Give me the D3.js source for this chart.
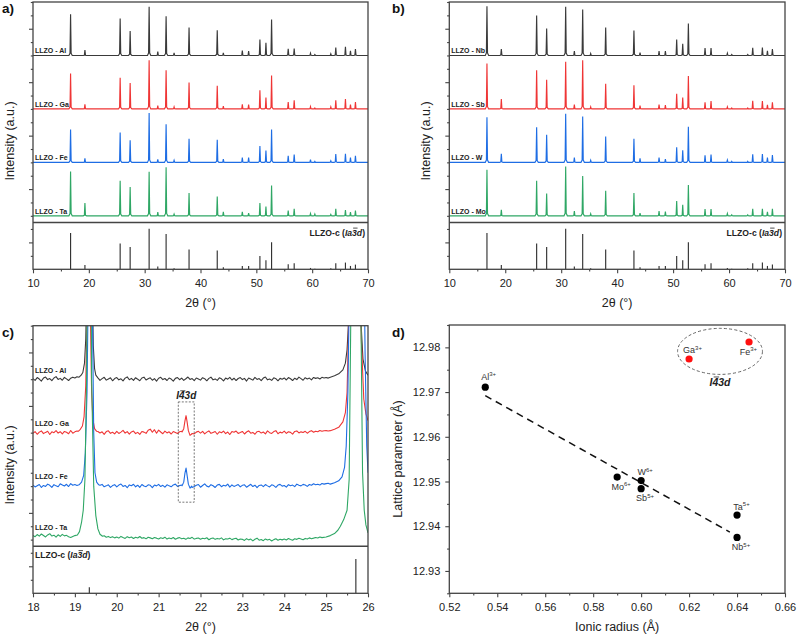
<!DOCTYPE html>
<html><head><meta charset="utf-8">
<script src="https://cdn.jsdelivr.net/npm/d3@7"></script>
<style>body{margin:0;background:#fff}svg{display:block}</style>
</head><body>
<svg id="chart" width="797" height="636"></svg>
<script>
// ---------------- DATA ----------------
// XRD peak positions (2θ, degrees) shared by all patterns in panels a/b
const peakTheta = [16.73,19.30,25.61,27.40,30.80,32.35,33.84,35.27,37.95,43.00,44.09,47.49,48.62,50.64,51.72,52.73,55.71,56.78,59.70,60.48,63.34,64.23,65.96,66.86,67.75];
// peak intensities (a.u.) for each doped sample
const intensAl = [30.9,4.0,27.7,18.2,36.4,2.8,29.4,2.0,20.9,18.9,2.0,3.7,3.2,12.0,9.5,26.9,5.0,5.2,1.7,0.7,1.3,6.0,6.5,3.5,4.7];
const intensGa = [26.4,3.5,23.4,19.4,36.4,2.5,28.9,1.5,19.7,17.4,2.0,3.5,3.2,14.0,8.5,24.9,5.2,6.5,1.7,0.7,1.5,6.5,7.3,3.2,5.2];
const intensFe = [24.5,3.0,22.4,16.5,36.9,2.2,28.6,1.5,17.7,17.0,2.5,3.5,3.5,12.2,8.8,24.5,5.0,5.8,2.0,0.7,1.1,6.2,6.5,3.5,5.0];
const intensTa = [33.1,9.5,26.2,21.5,32.9,2.8,36.4,1.3,17.0,14.4,3.0,3.0,2.0,9.5,7.0,22.7,4.0,5.2,1.7,1.3,1.0,5.2,4.3,2.8,4.0];
const intensNb = [36.9,4.7,29.9,20.2,36.4,3.2,34.4,1.5,20.9,18.7,2.2,3.2,3.2,12.0,8.8,23.9,5.5,5.5,1.7,0.7,0.7,5.8,6.0,3.5,4.7];
const intensSb = [33.9,7.3,28.9,21.9,35.2,3.2,36.4,1.5,18.9,17.7,2.5,3.2,2.8,11.4,8.5,24.7,5.0,5.8,1.5,0.7,0.7,6.0,5.8,3.0,5.0];
const intensW  = [33.7,6.5,26.2,20.7,36.4,3.5,34.4,1.5,19.4,17.7,3.0,3.5,2.5,11.2,9.0,26.7,5.2,5.8,1.7,0.7,0.7,6.0,6.2,3.5,5.5];
const intensMo = [34.4,4.5,26.2,16.7,36.9,3.5,29.7,1.5,18.7,17.0,2.0,3.5,3.2,11.0,8.2,23.0,5.0,5.0,1.7,0.7,0.7,5.2,5.2,3.0,5.2];
// reference LLZO-c (Ia-3d) stick pattern
const refIntens = [26.9,3.2,19.2,16.5,30.1,2.0,26.2,0.7,14.7,14.0,1.5,2.5,2.5,9.9,6.7,20.2,3.7,4.5,1.0,0.5,0.7,4.5,5.0,2.5,3.5];

const samplesA = ["LLZO - Al","LLZO - Ga","LLZO - Fe","LLZO - Ta"];
const samplesB = ["LLZO - Nb","LLZO - Sb","LLZO - W","LLZO - Mo"];
const stackOffsets = [120,80,40,0];

const xTicksAB = [10,20,30,40,50,60,70];
const xMinorAB = [15,25,35,45,55,65];
const xTicksC = [18,19,20,21,22,23,24,25,26];
const xMinorC = [18.5,19.5,20.5,21.5,22.5,23.5,24.5,25.5];

// Panel c: zoomed scans, baseline (2θ = 18.00 → 26.00, step 0.05) and peak profiles [2θ, I]
const cGridStart = 18.0, cGridStep = 0.05;
const cBaseAl = [
  0.4,-0.9,1.2,0.1,-1.4,0.8,1.6,-0.3,0.5,-1.1,0.9,1.9,-0.2,0.6,-0.8,1.3,0.2,-1.0,0.7,1.5,
  0.9,1.8,2.6,4,6,8,10,6,3,1,-0.6,1.1,-0.9,0.4,1.4,-0.7,0.2,1.0,-1.2,0.5,
  1.2,-0.5,0.3,-1.3,0.8,1.7,-0.4,0.6,-0.9,1.1,0.0,-1.2,0.9,1.5,-0.6,0.3,1.0,-0.8,0.4,-1.4,
  0.7,1.4,-0.3,0.5,-1.0,0.9,0.1,-1.5,0.6,1.2,-0.4,0.8,-0.9,0.3,1.6,-0.2,0.5,-1.1,0.9,0.2,
  -0.7,1.1,0.4,-1.2,0.6,1.5,-0.5,0.2,-0.9,1.0,0.3,-1.3,0.8,0.0,1.4,-0.6,0.7,-1.0,0.5,1.2,
  -0.3,0.6,-1.4,0.9,0.2,-0.7,1.3,-0.2,0.5,-1.1,0.8,1.6,-0.5,0.1,-0.9,1.0,0.4,-1.2,0.6,0.0,
  0.9,-0.6,1.2,0.3,-1.0,0.7,-0.3,1.5,0.4,-0.8,1.1,0.2,0.8,-0.5,1.3,0.6,1.0,0.1,1.4,0.9,
  1.3,0.8,2,2,3,3,4,5,7,10,15,25,40,40,40,40,30,15,8,5,
  3];
const cBaseGa = [
  -0.5,0.8,-1.2,0.4,1.3,-0.7,0.2,1.0,-1.4,0.6,0.0,1.5,-0.3,0.7,-1.0,0.9,0.3,-0.8,1.6,-0.4,
  0.6,1.2,2,3,5,8,10,6,3,1.5,-0.8,0.9,-0.2,0.6,-1.3,0.8,1.4,-0.5,0.3,-0.9,
  1.0,-0.6,0.4,1.7,-0.3,0.8,-1.1,0.5,1.2,-0.7,0.2,-1.3,0.9,0.4,-0.5,1.8,2.6,0.3,2.2,-0.4,
  1.9,0.5,-0.8,1.1,-0.2,0.6,-1.0,0.8,0.1,-0.6,0.7,1.0,3,12,8,-2,-0.6,-0.9,0.4,1.0,
  -0.3,1.0,-0.9,0.4,1.3,-0.5,0.2,0.9,-1.2,0.6,-0.1,1.1,-0.7,0.5,-1.4,0.8,0.3,1.2,-0.6,0.1,
  0.9,-1.0,0.5,1.4,-0.4,0.2,-1.2,0.7,1.0,-0.3,0.5,-0.9,1.3,0.0,-0.6,0.8,1.5,-0.8,0.4,-0.2,
  1.1,-0.5,0.7,0.2,-1.1,0.9,1.3,-0.2,0.6,0.1,1.0,-0.4,0.8,1.5,0.3,1.1,0.7,1.6,1.0,1.4,
  1.5,1.2,2,3,4,5,8,12,18,30,60,80,80,80,60,35,22,14,11,10,
  9];
const cBaseFe = [
  0.8,-0.6,0.3,1.2,-1.0,0.5,-0.2,1.5,0.6,-0.9,1.1,0.2,-0.5,1.7,0.9,0.1,1.4,-0.3,1.9,0.7,
  1.2,0.5,2,3,5,8,12,8,3,1.5,0.9,-0.7,0.6,1.3,-0.5,0.2,1.0,-0.9,0.4,1.1,
  -0.6,0.8,1.6,-0.2,0.5,-1.2,0.9,0.3,1.4,-0.5,0.7,-0.9,1.2,0.1,-0.4,1.0,0.6,-1.1,0.8,0.2,
  1.3,-0.3,0.6,-0.8,1.0,0.2,-0.5,0.9,1.5,-0.2,0.4,0.8,3,12,8,-1.5,-1.0,-0.3,0.7,1.2,
  -0.8,0.5,1.7,0.0,-0.6,1.1,0.3,-1.0,0.8,1.3,-0.4,0.6,0.1,1.5,-0.7,0.9,-0.2,0.4,1.2,-0.5,
  0.6,1.0,-0.8,0.3,1.4,-0.3,0.7,-1.1,0.5,0.9,-0.4,1.2,0.2,-0.6,1.0,0.4,-0.9,0.8,1.3,0.0,
  0.5,-0.7,1.1,0.3,0.8,-0.4,1.5,0.6,0.2,1.3,0.9,-0.2,1.2,0.7,1.8,1.0,1.4,0.8,2.0,1.5,
  1.9,2.2,3,4,5,8,12,20,40,80,120,120,120,120,120,120,120,60,25,10,
  10];
const cBaseTa = [
  3.0,2.2,3.8,2.6,4.2,3.1,2.0,3.5,4.4,2.7,3.3,1.9,3.6,2.4,3.9,2.8,3.2,2.1,1.6,2.3,
  2.5,3,6,13,22,45,120,200,120,40,18,8,4,2.5,2.9,1.8,2.4,1.5,2.2,1.3,
  2.0,1.1,2.4,1.6,0.9,2.2,1.4,1.9,0.8,1.7,1.2,2.3,1.0,1.5,0.6,1.8,1.3,0.7,1.6,1.1,
  0.5,1.4,0.9,1.8,0.4,1.2,0.7,1.6,0.3,1.1,1.5,0.6,1.0,0.2,1.3,0.8,1.7,0.4,0.9,1.2,
  0.3,1.0,0.6,1.4,-0.1,0.8,1.2,0.2,0.9,0.5,1.3,-0.2,0.7,0.4,1.1,0.0,0.6,1.0,-0.3,0.5,
  0.2,-0.6,0.7,-0.2,0.4,-0.9,0.3,1.1,-0.4,0.1,-0.8,0.5,-0.3,0.2,-1.0,0.0,0.6,-0.5,0.3,-0.2,
  0.4,-0.3,0.8,0.1,-0.5,0.6,0.2,1.0,0.5,-0.1,0.9,0.4,1.3,0.7,1.1,1.6,1.2,2.0,1.7,2.4,
  2.8,3.5,4,5,7,10,15,22,45,200,600,600,200,50,22,11,8,6,5,5,
  5];
const cPeakAl1 = [[19.10,1.5],[19.15,3],[19.19,5],[19.23,12],[19.26,30],[19.29,80],[19.35,300],[19.41,80],[19.44,25],[19.47,8],[19.50,3],[19.55,1]];
const cPeakGa1 = [[19.08,1],[19.13,2.5],[19.18,5],[19.22,12],[19.26,35],[19.29,90],[19.33,300],[19.37,90],[19.40,30],[19.43,10],[19.47,3],[19.52,1]];
const cPeakFe1 = [[19.10,1],[19.16,3],[19.21,8],[19.25,25],[19.29,70],[19.32,150],[19.37,400],[19.42,130],[19.45,40],[19.48,10],[19.52,3],[19.57,1]];
const cPeakTa1 = [[19.00,3],[19.06,3.5],[19.11,6],[19.16,13],[19.20,22],[19.24,45],[19.28,120],[19.34,500],[19.40,120],[19.45,40],[19.50,18],[19.55,8],[19.60,4],[19.66,2.5]];
const cPeakAl2 = [[25.10,1.5],[25.20,2.5],[25.30,4],[25.40,7],[25.46,12],[25.50,22],[25.54,45],[25.60,150],[25.68,400],[25.76,150],[25.82,50],[25.88,15],[25.94,6],[26.00,3]];
const cPeakGa2 = [[25.10,1.5],[25.20,2.5],[25.30,4],[25.40,8],[25.46,15],[25.50,30],[25.53,70],[25.60,300],[25.70,500],[25.78,200],[25.84,70],[25.90,25],[25.95,14],[26.00,9]];
const cPeakFe2 = [[25.10,1.5],[25.20,2.5],[25.30,4],[25.38,7],[25.44,14],[25.48,30],[25.52,70],[25.60,250],[25.75,600],[25.88,250],[25.93,100],[25.97,30],[26.00,10]];
const cPeakTa2 = [[24.90,1.5],[25.00,2],[25.10,3],[25.20,4.5],[25.28,7],[25.34,10],[25.42,15],[25.50,22],[25.55,45],[25.60,200],[25.72,600],[25.82,200],[25.87,50],[25.91,22],[25.95,11],[26.00,5]];
const cPeakGa3 = [[21.56,0.5],[21.60,3],[21.63,9],[21.655,12.7],[21.68,8],[21.71,1.5],[21.75,-2],[21.79,-1]];
const cPeakFe3 = [[21.56,0.3],[21.60,3],[21.63,10],[21.655,13.5],[21.68,8],[21.71,1.5],[21.75,-1.5],[21.79,0]];
const cRefTheta = [19.345,25.71];
const cRefIntens = [4.5,25.4];
const cBoxTheta = [21.47,21.85];
const cBoxInt = [28,103];

// Panel d
const ionNames   = ["Al","Ga","Fe","Mo","W","Sb","Ta","Nb"];
const ionCharges = ["3+","3+","3+","6+","6+","5+","5+","5+"];
const ionicRadius = [0.535,0.620,0.645,0.590,0.600,0.600,0.640,0.640];
const latticeParam = [12.9711,12.9774,12.9812,12.9510,12.9502,12.9484,12.9425,12.9375];
const ionPhase = ["c","t","t","c","c","c","c","c"]; // t = I-43d
const fitRadius = [0.535,0.637];
const fitLattice = [12.9692,12.9387];
const dXTicks = [0.52,0.54,0.56,0.58,0.60,0.62,0.64,0.66];
const dXMinor = [0.53,0.55,0.57,0.59,0.61,0.63,0.65];
const dYTicks = [12.93,12.94,12.95,12.96,12.97,12.98];
const dYMinor = [12.925,12.935,12.945,12.955,12.965,12.975,12.985];
const ellipseCenter = [0.6329,12.9791];
const ellipseRadii = [0.0177,0.00515];

// ---------------- STYLE ----------------
const FF = '"Liberation Sans", Arial, Helvetica, sans-serif';
const INK = "#222";
const FRAME = "#444";
const COL = {gray:"#3a3a3a", red:"#ef3535", blue:"#1e6de4", green:"#2fa765"};
const stackColors = [COL.gray, COL.red, COL.blue, COL.green];

const svg = d3.select("#chart");

function axis(g, scale, orient, major, minor, fmt, pad){
  const mk = orient === "bottom" ? d3.axisBottom : d3.axisLeft;
  const a1 = mk(scale).tickValues(major).tickSize(4).tickSizeOuter(0).tickPadding(pad || 6).tickFormat(fmt || (()=>""));
  const a2 = mk(scale).tickValues(minor).tickSize(2.2).tickSizeOuter(0).tickFormat(()=>"");
  const s1 = g.append("g").call(a1), s2 = g.append("g").call(a2);
  [s1,s2].forEach(s=>{
    s.select(".domain").remove();
    s.selectAll("line").attr("stroke",FRAME).attr("stroke-width",1.1);
    s.selectAll("text").attr("fill",INK).attr("font-size",11).attr("font-family",FF);
  });
}

function overlineText(g, x, y, parts, size, anchor, barIndex){
  const t = g.append("text").attr("x",x).attr("y",y).attr("font-family",FF)
    .attr("font-size",size).attr("font-weight","bold").attr("fill",INK).attr("text-anchor",anchor);
  parts.forEach(p=>t.append("tspan").text(p.t).attr("font-style",p.italic?"italic":"normal"));
  const ext = t.node().getExtentOfChar(barIndex);
  g.append("line").attr("x1",ext.x+size*0.12).attr("x2",ext.x+ext.width+size*0.08)
    .attr("y1",y-size*0.86).attr("y2",y-size*0.86).attr("stroke",INK).attr("stroke-width",0.8);
}

function yTitle(x, y, text){
  svg.append("text").attr("transform",`translate(${x},${y}) rotate(-90)`)
    .attr("text-anchor","middle").attr("font-family",FF).attr("font-size",12.5).attr("fill",INK).text(text);
}
function xTitle(x, y, text){
  svg.append("text").attr("x",x).attr("y",y).attr("text-anchor","middle")
    .attr("font-family",FF).attr("font-size",12.5).attr("fill",INK).text(text);
}
function panelLabel(x,y,t){
  svg.append("text").attr("x",x).attr("y",y).attr("font-family",FF).attr("font-size",13.5)
    .attr("font-weight","bold").attr("fill","#111").text(t);
}

// -------- panels a & b --------
function xrdPanel(left, right, names, intens){
  const top = 2, sep = 222.5, bottom = 269.3;
  const g = svg.append("g");
  const x = d3.scaleLinear().domain([10,70]).range([left,right]);
  const y = d3.scaleLinear().domain([-5,160]).range([sep,top]);
  const yr = d3.scaleLinear().domain([0,34.8]).range([bottom,sep]);
  const line = d3.line().x(d=>x(d[0])).y(d=>d[1]);
  names.forEach((nm,k)=>{
    const off = stackOffsets[k];
    const pts = [[10,y(off)]];
    peakTheta.forEach((p,i)=>{
      const h = intens[k][i];
      pts.push([p-0.3,y(off)],[p-0.1,y(off+0.05*h)],[p,y(off+h)],[p+0.1,y(off+0.05*h)],[p+0.3,y(off)]);
    });
    pts.push([70,y(off)]);
    g.append("path").attr("d",line(pts)).attr("fill","none").attr("stroke",stackColors[k]).attr("stroke-width",1.15);
    g.append("text").attr("x",left+2).attr("y",y(off)-2).attr("font-family",FF).attr("font-size",7)
      .attr("font-weight","bold").attr("fill",INK).text(nm);
  });
  g.selectAll(null).data(peakTheta).enter().append("line")
    .attr("x1",d=>x(d)).attr("x2",d=>x(d)).attr("y1",yr(0)).attr("y2",(d,i)=>yr(refIntens[i]))
    .attr("stroke","#333").attr("stroke-width",1.15);
  g.append("rect").attr("x",left).attr("y",top).attr("width",right-left).attr("height",bottom-top)
    .attr("fill","none").attr("stroke",FRAME).attr("stroke-width",1.3);
  g.append("line").attr("x1",left).attr("x2",right).attr("y1",sep).attr("y2",sep).attr("stroke",FRAME).attr("stroke-width",1.6);
  axis(g.append("g").attr("transform",`translate(0,${bottom})`), x, "bottom", xTicksAB, xMinorAB, d=>d);
  axis(g.append("g").attr("transform",`translate(${left},0)`), y, "left", [20,60,100,140], [0,10,30,40,50,70,80,90,110,120,130,150,160]);
  axis(g.append("g").attr("transform",`translate(${left},0)`), yr, "left", [20], [10,30]);
  overlineText(g, right-3, 235.5, [{t:"LLZO-c ("},{t:"Ia3d",italic:true},{t:")"}], 8.6, "end", 10);
  yTitle(left-19.5, 141, "Intensity (a.u.)");
  xTitle((left+right)/2, 307, "2θ (°)");
}
xrdPanel(33, 368, samplesA, [intensAl,intensGa,intensFe,intensTa]);
xrdPanel(449.3, 785, samplesB, [intensNb,intensSb,intensW,intensMo]);
panelLabel(2,12.5,"a)");
panelLabel(392,12.5,"b)");

// -------- panel c --------
(function(){
  const left=33,right=368,top=325.7,sep=546.3,bottom=593.3;
  const g = svg.append("g");
  const x = d3.scaleLinear().domain([18,26]).range([left,right]);
  const y = d3.scaleLinear().domain([-5,160]).range([sep,top]);
  const yr = d3.scaleLinear().domain([0,34.8]).range([bottom,sep]);
  g.append("clipPath").attr("id","clipC").append("rect").attr("x",left).attr("y",top).attr("width",right-left).attr("height",sep-top);
  function build(base, profiles){
    const ranges = profiles.map(p=>[p[0][0], p[p.length-1][0]]);
    const pts = [];
    base.forEach((v,i)=>{
      const t = cGridStart + i*cGridStep;
      if(!ranges.some(r=>t>=r[0]-1e-6 && t<=r[1]+1e-6)) pts.push([t,v]);
    });
    profiles.forEach(p=>p.forEach(q=>pts.push(q)));
    return pts.sort((a,b)=>a[0]-b[0]);
  }
  const curves = [
    build(cBaseAl,[cPeakAl1,cPeakAl2]),
    build(cBaseGa,[cPeakGa1,cPeakGa3,cPeakGa2]),
    build(cBaseFe,[cPeakFe1,cPeakFe3,cPeakFe2]),
    build(cBaseTa,[cPeakTa1,cPeakTa2])
  ];
  const cg = g.append("g").attr("clip-path","url(#clipC)");
  curves.forEach((pts,k)=>{
    const off = stackOffsets[k];
    const line = d3.line().x(d=>x(d[0])).y(d=>y(off+d[1]));
    cg.append("path").attr("d",line(pts)).attr("fill","none").attr("stroke",stackColors[k]).attr("stroke-width",1.1).attr("stroke-linejoin","round");
  });
  const lblDy = [-6,-6.6,-6.7,-10];
  samplesA.forEach((nm,k)=>{
    g.append("text").attr("x",left+2).attr("y",y(stackOffsets[k])+lblDy[k]).attr("font-family",FF).attr("font-size",7)
      .attr("font-weight","bold").attr("fill",INK).text(nm);
  });
  g.append("rect").attr("x",x(cBoxTheta[0])).attr("y",y(cBoxInt[1])).attr("width",x(cBoxTheta[1])-x(cBoxTheta[0]))
    .attr("height",y(cBoxInt[0])-y(cBoxInt[1])).attr("fill","none").attr("stroke","#555").attr("stroke-width",0.8).attr("stroke-dasharray","2,1.5");
  overlineText(g, (x(cBoxTheta[0])+x(cBoxTheta[1]))/2, y(cBoxInt[1])-2.5, [{t:"I43d",italic:true}], 10, "middle", 1);
  g.selectAll(null).data(cRefTheta).enter().append("line")
    .attr("x1",d=>x(d)).attr("x2",d=>x(d)).attr("y1",yr(0)).attr("y2",(d,i)=>yr(cRefIntens[i]))
    .attr("stroke","#333").attr("stroke-width",1.15);
  g.append("rect").attr("x",left).attr("y",top).attr("width",right-left).attr("height",bottom-top)
    .attr("fill","none").attr("stroke",FRAME).attr("stroke-width",1.3);
  g.append("line").attr("x1",left).attr("x2",right).attr("y1",sep).attr("y2",sep).attr("stroke",FRAME).attr("stroke-width",1.6);
  axis(g.append("g").attr("transform",`translate(0,${bottom})`), x, "bottom", xTicksC, xMinorC, d=>d);
  axis(g.append("g").attr("transform",`translate(${left},0)`), y, "left", [20,60,100,140], [0,10,30,40,50,70,80,90,110,120,130,150,160]);
  axis(g.append("g").attr("transform",`translate(${left},0)`), yr, "left", [20], [10,30]);
  overlineText(g, left+2, 558, [{t:"LLZO-c ("},{t:"Ia3d",italic:true},{t:")"}], 8.6, "start", 10);
  yTitle(left-19.5, 465, "Intensity (a.u.)");
  xTitle((left+right)/2, 631, "2θ (°)");
  panelLabel(2,336.5,"c)");
})();

// -------- panel d --------
(function(){
  const left=449.3,right=785,top=325,bottom=593.3;
  const g = svg.append("g");
  const x = d3.scaleLinear().domain([0.52,0.66]).range([left,right]);
  const y = d3.scaleLinear().domain([12.925,12.985]).range([bottom,top]);
  g.append("ellipse").attr("cx",x(ellipseCenter[0])).attr("cy",y(ellipseCenter[1]))
    .attr("rx",x(ellipseCenter[0]+ellipseRadii[0])-x(ellipseCenter[0]))
    .attr("ry",y(ellipseCenter[1])-y(ellipseCenter[1]+ellipseRadii[1]))
    .attr("fill","none").attr("stroke","#666").attr("stroke-width",1).attr("stroke-dasharray","3,2.2");
  overlineText(g, x(ellipseCenter[0]), 386, [{t:"I43d",italic:true}], 10.5, "middle", 1);
  g.append("line").attr("x1",x(fitRadius[0])).attr("y1",y(fitLattice[0])).attr("x2",x(fitRadius[1])).attr("y2",y(fitLattice[1]))
    .attr("stroke","#111").attr("stroke-width",1.5).attr("stroke-dasharray","7,5");
  g.selectAll("circle.pt").data(ionNames).enter().append("circle").attr("class","pt")
    .attr("cx",(d,i)=>x(ionicRadius[i])).attr("cy",(d,i)=>y(latticeParam[i])).attr("r",3.6)
    .attr("fill",(d,i)=>ionPhase[i]==="t"?"#ff1010":"#000");
  const lblOff = {Al:[0,-7.5],Ga:[0,-5.5],Fe:[-4,13],Mo:[0.5,12.5],W:[0.5,-5.2],Sb:[0.5,12.5],Ta:[1,-5.2],Nb:[0.5,13]};
  ionNames.forEach((nm,i)=>{
    const px = x(ionicRadius[i]), py = y(latticeParam[i]);
    const t = g.append("text").attr("y",py+lblOff[nm][1]).attr("font-family",FF).attr("fill","#333").attr("font-size",9);
    const b = t.append("tspan").text(nm);
    t.append("tspan").text(ionCharges[i]).attr("font-size",6).attr("dy",-3.6);
    const w = b.node().getComputedTextLength();
    t.attr("x",px+lblOff[nm][0]-w/2);
  });
  g.append("rect").attr("x",left).attr("y",top).attr("width",right-left).attr("height",bottom-top)
    .attr("fill","none").attr("stroke",FRAME).attr("stroke-width",1.3);
  axis(g.append("g").attr("transform",`translate(0,${bottom})`), x, "bottom", dXTicks, dXMinor, d3.format(".2f"));
  axis(g.append("g").attr("transform",`translate(${left},0)`), y, "left", dYTicks, dYMinor, d3.format(".2f"), 5);
  yTitle(401.5, 459, "Lattice parameter (Å)");
  xTitle((left+right)/2, 631, "Ionic radius (Å)");
  panelLabel(392,336.5,"d)");
})();
</script>
</body></html>
